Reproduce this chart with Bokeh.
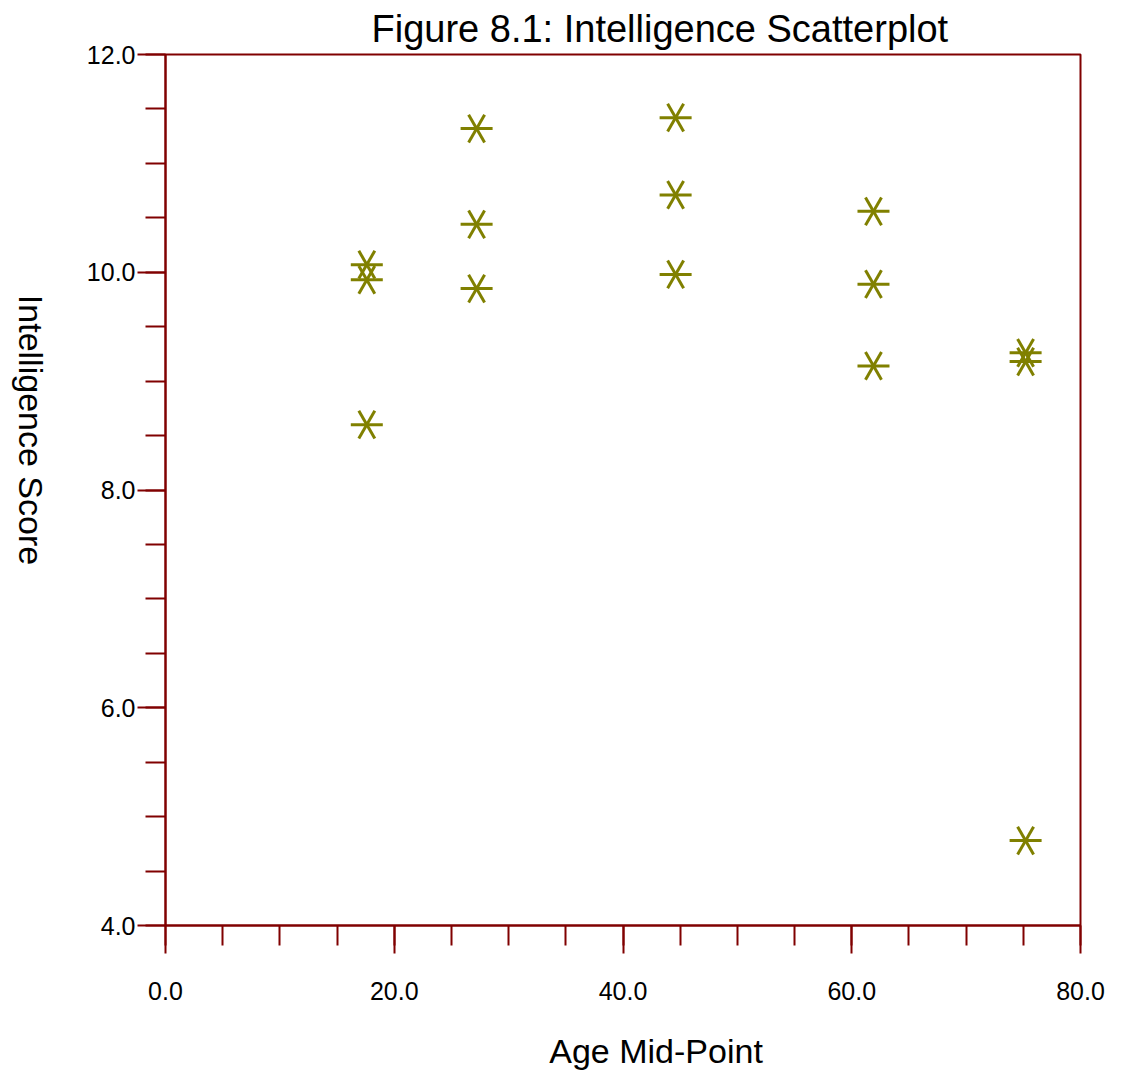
import math
from bokeh.plotting import figure
from bokeh.layouts import row
from bokeh.models import Range1d, SingleIntervalTicker, PrintfTickFormatter, ColumnDataSource
from bokeh.core.properties import value
from bokeh.embed import file_html
from bokeh.resources import INLINE

# Data
age_mid_point = [17.6, 17.6, 17.6, 27.2, 27.2, 27.2, 44.6, 44.6, 44.6,
                 61.9, 61.9, 61.9, 75.2, 75.2, 75.2]
intelligence_score = [10.07, 9.93, 8.60, 11.32, 10.44, 9.85, 11.42, 10.71, 9.98,
                      10.56, 9.89, 9.14, 9.26, 9.18, 4.78]

DARK_RED = "#800000"
OLIVE = "#808000"
FONT = "Liberation Sans"

# Narrow strip holding the y-axis title (reads top to bottom, as in the reference)
ylab = figure(width=60, height=1074, output_backend="svg", toolbar_location=None,
              x_range=Range1d(0, 60), y_range=Range1d(0, 1074),
              min_border=0)
ylab.axis.visible = False
ylab.grid.visible = False
ylab.outline_line_color = None
ylab.text(x=[30], y=[611], text=["Intelligence Score"], angle=-math.pi / 2,
          text_font=value(FONT), text_font_size="34px", text_color="black",
          text_align="center", text_baseline="middle")

p = figure(width=1064, height=1074, output_backend="svg", toolbar_location=None,
           x_range=Range1d(0, 80), y_range=Range1d(4, 12),
           min_border_left=105, min_border_right=44, min_border_top=54, min_border_bottom=149)

p.title.text = "Figure 8.1: Intelligence Scatterplot"
p.title.text_font = FONT
p.title.text_font_size = "38px"
p.title.text_font_style = "normal"
p.title.text_color = "black"
p.title.align = "left"
p.title.offset = 206
p.title.standoff = 10

p.xgrid.visible = False
p.ygrid.visible = False
p.outline_line_color = DARK_RED
p.outline_line_width = 2
p.background_fill_color = "white"
p.border_fill_color = "white"

src = ColumnDataSource(dict(x=age_mid_point, y=intelligence_score))
for ang in (0.0, math.pi / 3, 2 * math.pi / 3):
    p.scatter("x", "y", source=src, marker="dash", size=32, angle=ang,
              line_color=OLIVE, line_width=3)

for ax, interval in ((p.xaxis[0], 20), (p.yaxis[0], 2)):
    ax.ticker = SingleIntervalTicker(interval=interval, num_minor_ticks=4)
    ax.formatter = PrintfTickFormatter(format="%.1f")
    ax.axis_line_color = DARK_RED
    ax.axis_line_width = 2
    ax.major_tick_line_color = DARK_RED
    ax.major_tick_line_width = 2
    ax.minor_tick_line_color = DARK_RED
    ax.minor_tick_line_width = 2
    ax.major_tick_in = 0
    ax.major_tick_out = 28
    ax.minor_tick_in = 0
    ax.minor_tick_out = 20
    ax.major_label_text_font = FONT
    ax.major_label_text_font_size = "25px"
    ax.major_label_text_color = "black"

p.xaxis.major_label_standoff = 28
p.yaxis.major_label_standoff = 2

# x-axis title (leading no-break spaces shift it right, as in the reference)
p.xaxis.axis_label = "\u00a0" * 7 + "Age Mid-Point"
p.xaxis.axis_label_text_font = FONT
p.xaxis.axis_label_text_font_size = "34px"
p.xaxis.axis_label_text_font_style = "normal"
p.xaxis.axis_label_text_color = "black"
p.xaxis.axis_label_standoff = 29

layout = row(ylab, p)
open("out.html", "w").write(file_html(layout, INLINE))
